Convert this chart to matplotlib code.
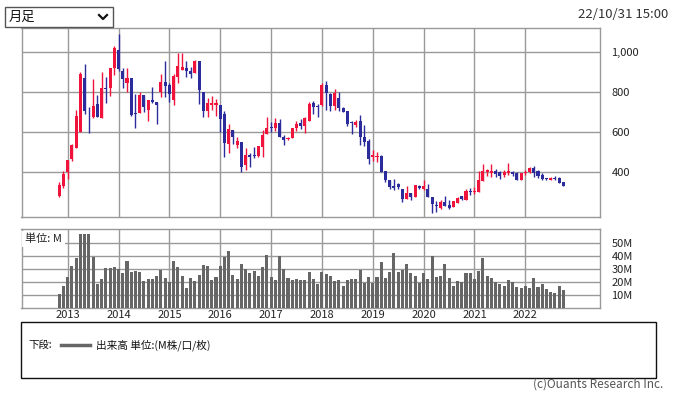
import matplotlib
matplotlib.use("Agg")
import matplotlib.pyplot as plt
import numpy as np
from matplotlib.patches import Rectangle
from matplotlib.lines import Line2D

plt.rcParams["font.family"] = ["Noto Sans CJK JP", "DejaVu Sans"]

# monthly candles, Nov 2012 .. Oct 2022
years = [2013, 2014, 2015, 2016, 2017, 2018, 2019, 2020, 2021, 2022]
opens = [
    284, 334,
    402, 468, 524, 603, 871, 682, 678, 739, 671, 821, 821, 921,
    1012, 904, 845, 868, 696, 697, 788, 712, 759, 752, 800, 848,
    833, 759, 874, 911, 922, 904, 894, 954, 800, 704, 735, 736,
    734, 693, 544, 613, 537, 552, 438, 489, 489, 483, 527, 592,
    626, 620, 648, 577, 566, 570, 620, 648, 633, 658, 744, 729,
    736, 833, 793, 729, 772, 719, 707, 650, 635, 655, 579, 559,
    478, 478, 482, 407, 362, 335, 342, 317, 267, 298, 278, 333,
    317, 320, 278, 237, 225, 253, 237, 226, 249, 283, 262, 305,
    303, 303, 358, 402, 398, 407, 402, 387, 395, 402, 398, 362,
    397, 402, 423, 407, 388, 370, 365, 373, 373, 353,
]
highs = [
    352, 408,
    463, 540, 711, 901, 942, 724, 863, 788, 898, 873, 921, 1028,
    1089, 921, 921, 868, 792, 802, 788, 762, 826, 752, 888, 957,
    845, 891, 997, 997, 957, 924, 962, 957, 800, 770, 783, 764,
    734, 706, 640, 613, 577, 552, 521, 497, 527, 534, 610, 678,
    650, 669, 664, 585, 575, 623, 658, 668, 678, 749, 757, 739,
    845, 853, 798, 817, 802, 724, 707, 655, 660, 684, 635, 565,
    512, 503, 485, 407, 362, 370, 348, 317, 332, 298, 337, 337,
    362, 345, 278, 258, 265, 282, 262, 257, 278, 283, 320, 325,
    328, 407, 442, 417, 442, 417, 407, 412, 448, 405, 402, 398,
    412, 428, 432, 412, 395, 372, 378, 382, 378, 353,
]
lows = [
    280, 324,
    369, 458, 524, 600, 689, 598, 669, 676, 671, 744, 780, 884,
    907, 818, 802, 683, 623, 697, 702, 656, 745, 641, 778, 775,
    750, 737, 845, 911, 874, 869, 894, 739, 676, 676, 709, 679,
    600, 478, 499, 544, 521, 403, 412, 426, 474, 478, 478, 592,
    600, 608, 575, 537, 560, 570, 608, 615, 597, 658, 691, 674,
    729, 712, 707, 712, 707, 699, 631, 590, 628, 536, 532, 440,
    458, 453, 400, 353, 320, 312, 317, 253, 267, 262, 278, 320,
    315, 278, 200, 203, 220, 232, 220, 226, 249, 262, 262, 287,
    292, 303, 358, 382, 378, 378, 367, 378, 387, 382, 365, 362,
    387, 398, 378, 373, 362, 365, 362, 362, 348, 333,
]
closes = [
    339, 393,
    461, 537, 683, 888, 706, 679, 729, 676, 821, 813, 921, 1021,
    914, 864, 868, 686, 689, 788, 726, 762, 752, 736, 848, 828,
    792, 878, 932, 926, 904, 888, 954, 808, 704, 745, 745, 747,
    666, 547, 618, 577, 555, 428, 486, 479, 483, 534, 588, 623,
    623, 648, 575, 562, 570, 623, 643, 631, 671, 739, 724, 727,
    833, 798, 732, 798, 719, 702, 640, 648, 653, 579, 554, 466,
    488, 482, 400, 362, 328, 323, 328, 267, 298, 278, 337, 323,
    332, 278, 245, 232, 253, 232, 225, 257, 274, 267, 307, 302,
    307, 362, 407, 412, 405, 392, 385, 400, 407, 392, 365, 398,
    402, 423, 398, 382, 368, 367, 375, 368, 348, 333,
]
volumes = [
    11, 17,
    24, 32.5, 38.7, 57, 57, 57, 39.5, 18.7, 22.6, 31, 31, 31.8,
    30.3, 27.2, 36.4, 28, 28.7, 28, 21, 22.6, 22.6, 24.9, 29.5, 23.3,
    20, 36.4, 31.8, 24.9, 15.6, 23.3, 21, 25.6, 33.3, 32.6, 21.8, 24.1,
    32.6, 39.5, 44.1, 25.6, 22.6, 34.1, 30.3, 27.2, 28.7, 24.9, 31.8, 41,
    24.1, 21.8, 40.3, 30.3, 23.3, 21.8, 22.6, 21.8, 21.8, 28, 22.6, 18.7,
    28, 26.4, 24.9, 21, 21.8, 17.2, 21.8, 22.6, 22.6, 29.5, 19.5, 24.1,
    19.5, 24.1, 35.6, 23.3, 28, 42.6, 28, 29.5, 34.1, 27.2, 24.9, 19.5,
    27.2, 22.6, 40.3, 24.1, 24.9, 34.1, 23.3, 17.2, 21, 20.3, 27.2, 27.2,
    22.6, 28.7, 38.7, 24.9, 23.3, 20.3, 18.7, 17.2, 21.8, 20, 16.4, 15.6,
    17.2, 15.6, 23.3, 16.4, 18.7, 14.9, 12.3, 11.5, 17.2, 14.1,
]
price_ticks = [400, 600, 800, 1000]
volume_ticks = [10, 20, 30, 40, 50]

W, H = 675, 396
UP = "#f0143c"
DOWN = "#2b2b9b"
GRID = "#999999"


def fx(px):
    return px / W


def fy(py):
    return 1 - py / H


o = np.array(opens, float)
h = np.array(highs, float)
l = np.array(lows, float)
c = np.array(closes, float)
x = np.arange(len(o))
jan_idx = [2 + 12 * k for k in range(len(years))]

fig = plt.figure(figsize=(W / 100, H / 100), dpi=100)
fig.patch.set_facecolor("white")

left, right = 21.5, 600.3
ax = fig.add_axes([fx(left), fy(216.7), fx(right - left), (216.7 - 28) / H])
axv = fig.add_axes([fx(left), fy(307.5), fx(right - left), (307.5 - 229) / H])

xlim = (-8.9, 127.7)

# candles
colors = np.where(c >= o, UP, DOWN)
ax.vlines(x, l, h, colors=colors, linewidth=1.0, zorder=3)
body_lo = np.minimum(o, c)
body_h = np.maximum(np.abs(c - o), 4)
ax.bar(x, body_h, bottom=body_lo, width=0.72, color=colors, linewidth=0, zorder=4)

ax.set_xlim(*xlim)
ax.set_ylim(180, 1119)
ax.set_xticks(jan_idx)
ax.set_xticklabels([])
ax.set_yticks(price_ticks)
ax.set_yticklabels([f"{v:,}" for v in price_ticks])
ax.yaxis.tick_right()
ax.tick_params(axis="both", length=0, labelsize=8, colors="#222222")
ax.tick_params(axis="y", pad=8)
ax.grid(True, color=GRID, linewidth=1.0)
ax.set_axisbelow(True)
for s in ax.spines.values():
    s.set_color(GRID)
    s.set_linewidth(1.0)

# volume
axv.bar(x, volumes, width=0.72, color="#666666", linewidth=0, zorder=3)
axv.set_xlim(*xlim)
axv.set_ylim(0.5, 61)
axv.set_xticks(jan_idx)
axv.set_xticklabels([str(y) for y in years])
axv.set_yticks(volume_ticks)
axv.set_yticklabels([f"{v}M" for v in volume_ticks])
axv.yaxis.tick_right()
axv.tick_params(axis="both", length=0, labelsize=8, colors="#222222")
axv.tick_params(axis="y", pad=8)
axv.tick_params(axis="x", pad=2)
axv.grid(True, color=GRID, linewidth=1.0)
axv.set_axisbelow(True)
for s in axv.spines.values():
    s.set_color(GRID)
    s.set_linewidth(1.0)
axv.text(0.006, 0.94, "単位: M", transform=axv.transAxes, fontsize=8,
         va="top", ha="left", color="#222222", zorder=5,
         bbox=dict(boxstyle="square,pad=0.25", facecolor="white", edgecolor="none"))

# header: dropdown + date
fig.patches.append(Rectangle((fx(5), fy(27)), fx(108), 20 / H, transform=fig.transFigure,
                             facecolor="white", edgecolor="#555555", linewidth=1.0))
fig.text(fx(9), fy(17), "月足", fontsize=9.5, va="center", ha="left", color="#111111")
fig.lines.append(Line2D([fx(99), fx(103), fx(107)], [fy(15), fy(19), fy(15)],
                        transform=fig.transFigure, color="#111111", linewidth=1.6))
fig.text(fx(668), fy(15), "22/10/31 15:00", fontsize=9.5, va="center", ha="right", color="#333333")

# legend box
fig.patches.append(Rectangle((fx(21), fy(378)), fx(635), 56 / H, transform=fig.transFigure,
                             facecolor="white", edgecolor="#111111", linewidth=1.0))
fig.text(fx(28), fy(345), "下段:", fontsize=7.5, va="center", ha="left", color="#111111")
fig.lines.append(Line2D([fx(61), fx(90)], [fy(345), fy(345)], transform=fig.transFigure,
                        color="#666666", linewidth=2.5))
fig.text(fx(96), fy(345), "出来高 単位:(M株/口/枚)", fontsize=7.7, va="center", ha="left",
         color="#111111")
fig.text(fx(663), fy(384), "(c)Ouants Research Inc.", fontsize=8.5, va="center", ha="right",
         color="#555555")

fig.savefig("out.png", dpi=100, facecolor="white")
